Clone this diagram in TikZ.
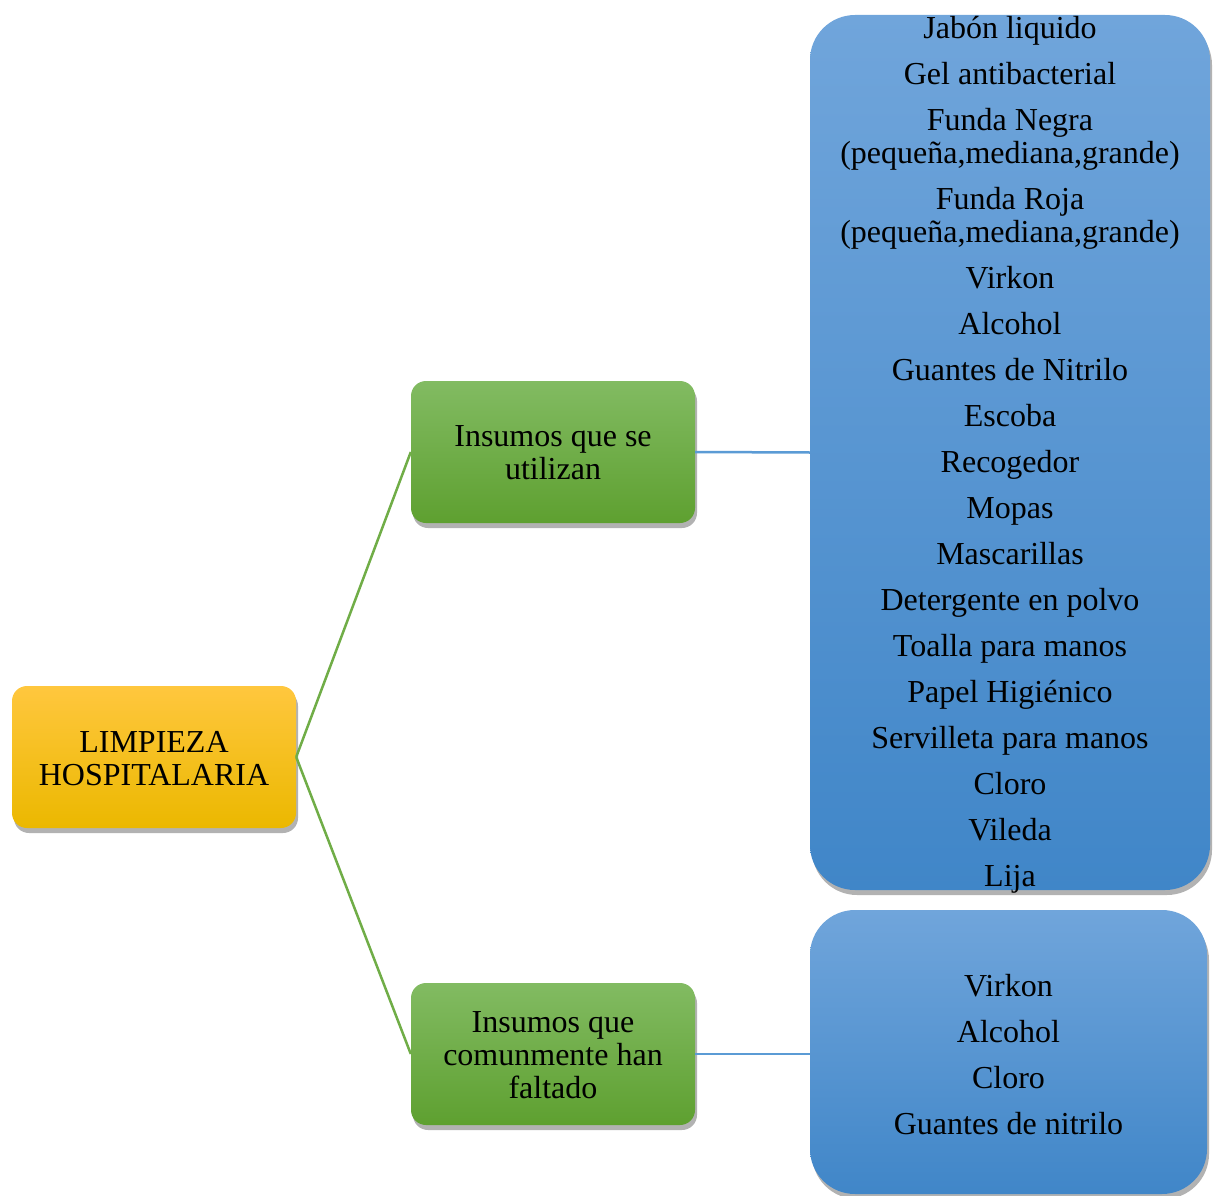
\documentclass[tikz,border=0pt]{standalone}
\usepackage{fontspec}
\setmainfont{Liberation Serif}
\usetikzlibrary{shadows}
\definecolor{ytop}{RGB}{255,199,62}
\definecolor{ybot}{RGB}{235,184,0}
\definecolor{gtop}{RGB}{130,187,98}
\definecolor{gbot}{RGB}{94,160,48}
\definecolor{btop}{RGB}{112,165,219}
\definecolor{bbot}{RGB}{64,134,200}
\definecolor{gline}{RGB}{112,173,71}
\definecolor{bline}{RGB}{91,155,213}
\tikzset{
  box/.style={rectangle, inner sep=0pt,
    drop shadow={shadow xshift=2pt, shadow yshift=-5pt, fill=black, opacity=0.3}},
  txt/.style={inner sep=0pt, align=center, font=\fontsize{32}{33}\selectfont},
  ybox/.style={box, rounded corners=15pt, top color=ytop, bottom color=ybot,
    minimum width=284pt, minimum height=142pt},
  gbox/.style={box, rounded corners=15pt, top color=gtop, bottom color=gbot,
    minimum width=284pt, minimum height=142pt},
  bbox/.style={box, rounded corners=45pt, top color=btop, bottom color=bbot},
  gconn/.style={draw=gline, line width=2.5pt},
  bconn/.style={draw=bline, line width=2.5pt},
}
\begin{document}
\begin{tikzpicture}[x=1pt,y=-1pt]
\useasboundingbox (0,0) rectangle (1213,1196);
\node[ybox] (root) at (154,757) {};
\node[gbox] (g1) at (553,452) {};
\node[gbox] (g2) at (553,1054) {};
\node[bbox, minimum width=400pt, minimum height=875pt] (b1) at (1010,452.5) {};
\node[bbox, minimum width=397pt, minimum height=284pt] (b2) at (1008.5,1052) {};
\draw[gconn] (root.east) -- (g1.west);
\draw[gconn] (root.east) -- (g2.west);
\draw[bconn] (g1.east) -- (b1.west);
\draw[bconn] (g2.east) -- (b2.west |- g2.east);
\node[txt] (roott) at ([yshift=-2pt]root.center) {LIMPIEZA\\HOSPITALARIA};
\node[txt] (g1t) at ([yshift=-1pt]g1.center) {Insumos que se\\utilizan};
\node[txt] (g2t) at ([yshift=-1pt]g2.center) {Insumos que\\comunmente han\\faltado};
\node[txt] (b1t) at ([yshift=-2.5pt]b1.center) {%
Jabón liquido\\[13pt]
Gel antibacterial\\[13pt]
Funda Negra\\(pequeña,mediana,grande)\\[13pt]
Funda Roja\\(pequeña,mediana,grande)\\[13pt]
Virkon\\[13pt]
Alcohol\\[13pt]
Guantes de Nitrilo\\[13pt]
Escoba\\[13pt]
Recogedor\\[13pt]
Mopas\\[13pt]
Mascarillas\\[13pt]
Detergente en polvo\\[13pt]
Toalla para manos\\[13pt]
Papel Higiénico\\[13pt]
Servilleta para manos\\[13pt]
Cloro\\[13pt]
Vileda\\[13pt]
Lija};
\node[txt] (b2t) at ([yshift=-2.5pt]b2.center) {%
Virkon\\[13pt]
Alcohol\\[13pt]
Cloro\\[13pt]
Guantes de nitrilo};
\end{tikzpicture}
\end{document}
